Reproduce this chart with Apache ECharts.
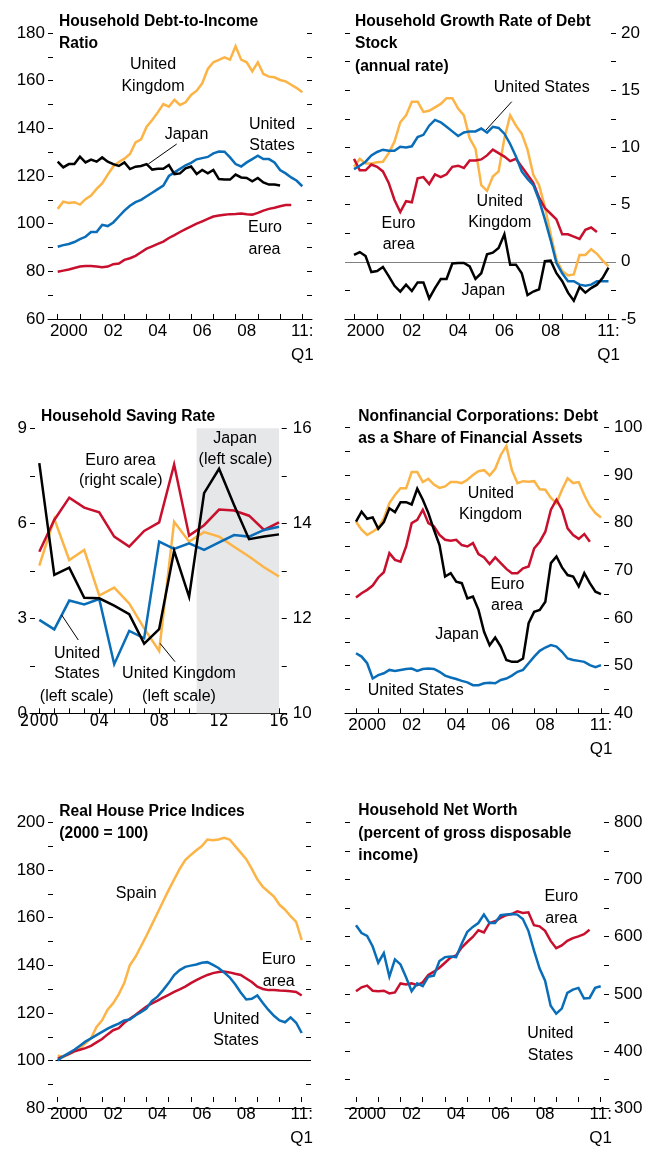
<!DOCTYPE html>
<html><head><meta charset="utf-8">
<script src="https://cdn.jsdelivr.net/npm/echarts@6/dist/echarts.min.js"></script>
<style>html,body{margin:0;padding:0;background:#fff}#c{width:653px;height:1150px}</style>
</head><body><div id="c"></div>
<script>
// ---------- DATA (quarterly series start 2000:Q1; annual series start 2000) ----------
const START_YEAR = 2000;

// Panel 1: Household Debt-to-Income Ratio
const P1_UK    = [106.2,109.2,108.7,109,108,110.3,111.8,114.6,116.9,120.6,124,125.9,127.3,129.2,134.1,135.4,140.7,143.5,146.7,150.2,149.1,152,149.8,150.9,154,155.8,158.9,164.9,167.7,168.7,169.8,168.8,174.4,168.8,167.7,163.9,167.7,162.8,161.7,161.4,160.3,159.7,158.3,156.9,155.1];
const P1_US    = [90.3,91,91.5,92.3,93.5,94.5,96.5,96.5,99.5,99,100.5,103,105.5,107.5,109,110,111.5,113,114.5,116,120,121.5,123,124.5,125.5,127,127.5,128,129.5,130.3,130.2,127.8,125,124,125.7,127.1,128.5,127.1,127.1,125.7,122.5,121.1,119.4,118,115.7];
const P1_JAPAN = [126,123.6,125,125,128.1,125.7,126.9,126,127.8,126,125,124.2,125.7,122.9,123.9,124.2,125,122.7,123,123,124.6,120.8,121.1,123.2,124,120.8,122.5,121.1,122.5,118.7,118.5,118.5,120.6,119.4,119.2,117.8,119.2,117.3,116.4,116.4,116];
const P1_EURO  = [79.8,80.3,80.8,81.4,82,82.2,82.2,82,81.7,82,83,83.3,84.8,85.5,86.5,88,89.5,90.5,91.5,92.5,94,95.2,96.5,97.7,98.9,100,101,102,103,103.4,103.7,104,104.1,104.3,104,103.8,104.5,105.5,106.2,106.7,107.3,107.8,107.8];

// Panel 2: Household Growth Rate of Debt Stock (annual rate)
const P2_US    = [8.1,8.4,8.75,9.3,9.6,9.8,9.7,9.7,10.05,10,10.1,10.9,11.1,11.9,12.4,12.2,11.8,11.4,11,11.3,11.4,11.4,11.65,11.3,11.8,11.7,11.2,10.3,9.2,7.9,7.25,6.7,5.4,3.7,1.9,-0.1,-1,-1.7,-1.7,-2,-2.1,-2,-1.7,-1.7,-1.7];
const P2_UK    = [8.3,9,8.6,8.6,8.7,8.75,9.5,10.5,12.2,12.8,14,14,13.1,13.2,13.5,13.8,14.3,14.3,13.4,12.8,10.8,9.9,6.7,6.2,7.45,7.9,10.8,12.8,11.9,11.2,9.8,7.6,6.7,4.8,2.4,0.2,-0.8,-1.2,-1.1,0.6,0.6,1.1,0.7,0.1,-0.4];
const P2_EURO  = [9,8,8,8.5,8.3,7.9,6.9,5.4,4.35,5.3,5.2,7.3,7.4,6.8,7.65,7.4,7.65,8.3,8.4,8.2,8.85,8.85,8.95,9.3,9.8,9.5,9.2,8.8,9,8.3,7.6,6.9,5.6,4.7,4.2,3.7,2.4,2.4,2.2,2,2.8,3,2.6];
const P2_JAPAN = [0.6,0.85,0.5,-0.9,-0.8,-0.45,-1.25,-2.1,-2.6,-2,-2.55,-1.8,-1.8,-3.2,-2.3,-1.5,-1.5,-0.15,-0.1,-0.1,-0.4,-1.5,-1,0.65,0.8,1.2,2.4,-0.25,-0.25,-1,-2.9,-2.6,-2.4,0.05,0.1,-1,-1.7,-2.7,-3.4,-2.2,-2.7,-2.3,-2,-1.4,-0.5];

// Panel 3: Household Saving Rate (annual 2000-2016)
const P3_JAPAN = [7.9,4.37,4.6,3.65,3.63,3.4,3.13,2.2,2.66,5.13,3.68,6.95,7.72,6.58,5.5,5.58,5.65];
const P3_US    = [2.95,2.65,3.56,3.44,3.61,1.55,2.6,2.37,5.42,5.19,5.37,5.16,5.4,5.63,5.58,5.79,5.89];
const P3_UK    = [4.66,6.14,4.84,5.16,3.72,3.97,3.47,2.68,1.97,6.05,5.42,5.72,5.58,5.26,4.95,4.61,4.32];
const P3_EURO  = [13.4,14.07,14.54,14.33,14.23,13.72,13.51,13.84,14.02,15.24,13.74,13.96,14.29,14.27,14.16,13.86,14.02];
const P3_PROJECTION = [2010.5, 2016];

// Panel 4: Nonfinancial Corporations: Debt as a Share of Financial Assets
const P4_JAPAN = [80.2,82.3,80.8,81.1,78.7,80.1,83,82.2,84.3,84.3,83.8,87.1,84.8,82,78.5,75.3,68.7,69.4,67.6,67.3,64.1,64.5,61.7,57.1,54.3,55.9,54,51.2,50.8,50.8,51.5,58.9,61.3,61.7,63.4,71.5,72.9,70.6,69,68.7,66.6,69.4,67.3,65.5,65];
const P4_UK    = [80.2,78.5,77.4,78.1,78.9,80.9,84.1,85.8,87.2,87.2,90.6,90.6,88.5,89.2,88,87.3,87.6,88.5,88.5,88.3,89,90,90.8,91,89.9,91.3,94.2,96.1,91,88.3,88.7,88.6,88.7,87,86.9,85.2,84.1,86.9,89.3,88.3,88.5,85.8,83.5,82,81.1];
const P4_EURO  = [64.3,65.2,65.9,66.8,68.5,69.6,73.6,72.2,71.8,75,79.9,80.6,82.7,79.9,79.2,77.4,76.4,76.2,76.4,75.3,75,75.7,73.4,72.7,71.3,72.7,71.5,70.3,69.4,69.4,70.4,70.8,74.6,76,78.1,82.7,84.8,82.7,78.8,77.4,76.6,77.6,76];
const P4_US    = [52.6,51.9,50.5,47.3,48,48.4,49.1,48.9,49.1,49.3,49.4,48.9,49.3,49.4,49.3,48.7,47.9,47.5,47.2,46.8,46.5,45.9,45.9,46.3,46.4,46.3,47,47.3,47.9,48.7,49.1,50.5,51.9,53.1,53.8,54.3,54,52.9,51.5,51.2,51,50.8,50.1,49.7,50.1];

// Panel 5: Real House Price Indices (2000 = 100)
const P5_SPAIN = [100,99.2,100.6,101.7,103.1,105.2,107.3,112.2,115,119.6,122.4,126.2,131,138.7,142.2,146.7,151.3,156.2,161.1,166,170.9,175.5,180,183.8,186,188,189.8,192.6,192.3,192.6,193.3,192.6,189.8,187,184.2,180,175.5,172.3,170.2,168.1,164.6,162.5,159.7,157.3,149.5];
const P5_US    = [97.8,99.6,101,102.4,104.1,105.9,107.3,108.7,110.1,111.5,112.6,113.6,115,115.4,117.1,118.5,120.1,123.4,125.2,128,131,134.5,136.6,138,138.5,139,139.7,140,138.8,137.5,135.6,133.5,130.5,127,124,124.3,125.7,122.5,119.5,117,115,114.2,116.3,114,109.6];
const P5_EURO  = [98.6,99.6,100.6,101.7,102.4,103.1,104.1,105.6,107,109,110.8,111.7,114,115.7,117.3,119.2,121,122.3,123.5,124.8,126,127.2,128.3,129.5,131,132.3,133.5,134.5,135.3,135.8,136,135.6,135,134.5,133,131.5,129.5,128.5,128,128,127.8,127.7,127.5,127.2,125.7];
const P5_BASE  = 100;

// Panel 6: Household Net Worth (percent of gross disposable income)
const P6_US    = [616,602,597,578,549,566,524,555,546,523,498,512,507,524,526,552,559,560,559,583,604,613,620,635,620,620,634,635,636,635,627,606,571,539,517,472,458,467,495,501,504,485,486,504,507];
const P6_EURO  = [498,505,508,499,498,499,494,496,512,510,512,509,514,527,533,540,549,558,562,576,586,595,607,603,620,623,629,634,636,641,638,639,616,614,606,588,575,580,588,593,596,600,608];

// Tick labels
const Q_LABEL_YEARS = [2000, 2002, 2004, 2006, 2008];
const Q_LABEL_TEXT  = ['2000', '02', '04', '06', '08'];
const Q_END_YEAR = 2011, Q_END_LABEL = '11:\nQ1';
const A_LABEL_YEARS = [2000, 2004, 2008, 2012, 2016];
const A_LABEL_TEXT  = ['2000', '04', '08', '12', '16'];

// ---------- STYLE ----------
const FONT = "'Liberation Sans', Arial, sans-serif";
const NARROW = "'Liberation Sans Narrow', 'Arial Narrow', 'DejaVu Sans Condensed', 'Liberation Sans', sans-serif";
const ORANGE = '#fcb447', BLUE = '#0a6db8', RED = '#c8102e', BLACK = '#000000';

const quarterly = arr => arr.map((v, i) => [START_YEAR + i * 0.25, v]);
const annual = arr => arr.map((v, i) => [START_YEAR + i, v]);

const grids = [], xAxes = [], yAxes = [], series = [], graphics = [];

function yFrame(gi, pos, r, labelEvery, margin) {
  return {
    type: 'value', gridIndex: gi, position: pos, min: r.min, max: r.max, interval: r.interval,
    axisLine: { show: false, onZero: false },
    axisTick: { show: true, inside: true, length: 5, lineStyle: { color: '#000', width: 1 } },
    axisLabel: labelEvery ? {
      show: true, margin: margin, color: '#000', fontFamily: FONT, fontSize: 17,
      formatter: v => (Math.abs(v % labelEvery) < 1e-9 ? String(v) : '')
    } : { show: false },
    splitLine: { show: false }
  };
}

function addPanel(p) {
  const gA = grids.length;
  grids.push({ left: p.A.left, top: p.A.top, width: p.A.width, height: p.A.height });
  const gB = grids.length;
  grids.push({ left: p.B.left, top: p.A.top, width: p.B.width, height: p.A.height });
  const ppy = p.B.width / (p.xMax - p.xMin);
  const aMin = p.xMin - (p.B.left - p.A.left) / ppy;
  const aMax = p.xMin + (p.A.left + p.A.width - p.B.left) / ppy;

  const xA = xAxes.length;
  xAxes.push({ type: 'value', gridIndex: gA, position: 'bottom', min: aMin, max: aMax,
    axisLine: { show: true, onZero: false, lineStyle: { color: '#000', width: 1 } },
    axisTick: { show: false }, axisLabel: { show: false }, splitLine: { show: false } });
  const yAL = yAxes.length;
  yAxes.push(yFrame(gA, 'left', p.yL, p.leftLabels, p.leftMargin || 3));
  yAxes.push(yFrame(gA, 'right', p.yR || p.yL, p.rightLabels, p.rightMargin || 5));

  const xB = xAxes.length;
  xAxes.push({ type: 'value', gridIndex: gB, position: 'bottom', min: p.xMin, max: p.xMax, interval: 1,
    axisLine: { show: false, onZero: false },
    axisTick: { show: true, inside: true, length: 5, lineStyle: { color: '#000', width: 1 } },
    axisLabel: p.annual ? {
      show: true, margin: 0, color: '#000', fontFamily: NARROW, fontSize: 17, lineHeight: 16,
      formatter: v => { const k = A_LABEL_YEARS.indexOf(Math.round(v)); return k >= 0 ? A_LABEL_TEXT[k] : ''; }
    } : { show: false },
    splitLine: { show: false } });
  if (!p.annual) {
    xAxes.push({ type: 'value', gridIndex: gB, position: 'bottom', min: p.xMin, max: p.xMax, interval: 0.5,
      axisLine: { show: false, onZero: false }, axisTick: { show: false },
      axisLabel: { show: true, margin: 0, color: '#000', fontFamily: FONT, fontSize: 17, lineHeight: 24,
        formatter: v => {
          if (Math.abs(v - Q_END_YEAR) < 1e-6) return Q_END_LABEL;
          const k = Q_LABEL_YEARS.indexOf(v - 0.5);
          return k >= 0 ? Q_LABEL_TEXT[k] : '';
        } },
      splitLine: { show: false } });
  }
  const yBL = yAxes.length;
  yAxes.push({ type: 'value', gridIndex: gB, min: p.yL.min, max: p.yL.max, show: false, position: 'left' });
  const yR = p.yR || p.yL;
  yAxes.push({ type: 'value', gridIndex: gB, min: yR.min, max: yR.max, show: false, position: 'right' });

  // frame helpers (reference lines / shaded areas) on grid A
  const helper = { type: 'line', xAxisIndex: xA, yAxisIndex: yAL, data: [], silent: true, symbol: 'none' };
  if (p.markLine) helper.markLine = p.markLine;
  if (p.markArea) helper.markArea = p.markArea;
  if (p.markLine || p.markArea) series.push(helper);

  p.lines.forEach(l => {
    series.push({ type: 'line', xAxisIndex: xB, yAxisIndex: l.right ? yBL + 1 : yBL,
      data: l.data, symbol: 'none', showSymbol: false, clip: false, silent: true,
      lineStyle: { color: l.color, width: 2.5, join: 'miter' }, itemStyle: { color: l.color } });
  });
}

// Panel 1
addPanel({
  A: { left: 48, top: 33, width: 264, height: 286 }, B: { left: 57.7, width: 244.6 },
  xMin: 2000, xMax: 2011, yL: { min: 60, max: 180, interval: 10 }, leftLabels: 20,
  lines: [
    { data: quarterly(P1_UK), color: ORANGE },
    { data: quarterly(P1_EURO), color: RED },
    { data: quarterly(P1_US), color: BLUE },
    { data: quarterly(P1_JAPAN), color: BLACK }
  ]
});
// Panel 2
addPanel({
  A: { left: 345, top: 33, width: 271, height: 286 }, B: { left: 354, width: 254.5 },
  xMin: 2000, xMax: 2011, yL: { min: -5, max: 20, interval: 2.5 }, rightLabels: 5,
  markLine: { silent: true, symbol: ['none', 'none'], z: 1, label: { show: false },
    lineStyle: { color: '#808080', type: 'solid', width: 1.2 }, data: [{ yAxis: 0 }] },
  lines: [
    { data: quarterly(P2_UK), color: ORANGE },
    { data: quarterly(P2_EURO), color: RED },
    { data: quarterly(P2_US), color: BLUE },
    { data: quarterly(P2_JAPAN), color: BLACK }
  ]
});
// Panel 3
addPanel({
  A: { left: 30, top: 428.3, width: 256.7, height: 285 }, B: { left: 39.3, width: 239.7 },
  xMin: 2000, xMax: 2016, annual: true,
  yL: { min: 0, max: 9, interval: 1.5 }, yR: { min: 10, max: 16, interval: 1 },
  leftLabels: 3, rightLabels: 2, rightMargin: 6,
  markArea: { silent: true, itemStyle: { color: '#e6e7e8' },
    data: [[{ xAxis: P3_PROJECTION[0] }, { xAxis: P3_PROJECTION[1] }]] },
  lines: [
    { data: annual(P3_UK), color: ORANGE },
    { data: annual(P3_EURO), color: RED, right: true },
    { data: annual(P3_US), color: BLUE },
    { data: annual(P3_JAPAN), color: BLACK }
  ]
});
// Panel 4
addPanel({
  A: { left: 345, top: 427.3, width: 264, height: 286 }, B: { left: 356, width: 245 },
  xMin: 2000, xMax: 2011, yL: { min: 40, max: 100, interval: 5 }, rightLabels: 10,
  lines: [
    { data: quarterly(P4_UK), color: ORANGE },
    { data: quarterly(P4_EURO), color: RED },
    { data: quarterly(P4_US), color: BLUE },
    { data: quarterly(P4_JAPAN), color: BLACK }
  ]
});
// Panel 5
addPanel({
  A: { left: 48, top: 822.3, width: 263, height: 286 }, B: { left: 57.7, width: 244 },
  xMin: 2000, xMax: 2011, yL: { min: 80, max: 200, interval: 10 }, leftLabels: 20,
  markLine: { silent: true, symbol: ['none', 'none'], z: 1, label: { show: false },
    lineStyle: { color: '#000', type: 'solid', width: 1 },
    data: [[{ coord: [1999.9, P5_BASE] }, { coord: [2011.2, P5_BASE] }]] },
  lines: [
    { data: quarterly(P5_SPAIN), color: ORANGE },
    { data: quarterly(P5_EURO), color: RED },
    { data: quarterly(P5_US), color: BLUE }
  ]
});
// Panel 6
addPanel({
  A: { left: 345, top: 822.3, width: 264, height: 286 }, B: { left: 356, width: 244.7 },
  xMin: 2000, xMax: 2011, yL: { min: 300, max: 800, interval: 50 }, rightLabels: 100,
  lines: [
    { data: quarterly(P6_EURO), color: RED },
    { data: quarterly(P6_US), color: BLUE }
  ]
});

// ---------- TEXT ANNOTATIONS ----------
function txt(s, x, y, opt) {
  opt = opt || {};
  const align = opt.align || 'center';
  graphics.push({ type: 'text', x: x, y: y, silent: true, z: 10,
    style: { text: s, fill: '#000', font: (opt.bold ? 'bold ' : '') + (opt.size || 16) + 'px ' + FONT,
      textAlign: align, align: align, textVerticalAlign: 'middle', verticalAlign: 'middle' } });
}
function title(lines, x, y0, dy) { lines.forEach((s, i) => txt(s, x, y0 + i * dy, { bold: true, size: 15.6, align: 'left' })); }
function leader(x1, y1, x2, y2) {
  graphics.push({ type: 'line', silent: true, z: 10, shape: { x1, y1, x2, y2 }, style: { stroke: '#000', lineWidth: 1 } });
}

title(['Household Debt-to-Income', 'Ratio'], 59, 21.5, 22);
txt('United', 153, 64.5); txt('Kingdom', 153, 86.5);
txt('Japan', 186.5, 134.5); leader(176.7, 144, 148.3, 164);
txt('United', 272, 124.5); txt('States', 272, 146);
txt('Euro', 265, 228); txt('area', 264.5, 249.5);

title(['Household Growth Rate of Debt', 'Stock', '(annual rate)'], 355, 21.5, 22.5);
txt('United States', 541.7, 88); leader(511.7, 101.7, 486, 130);
txt('United', 499.7, 201.7); txt('Kingdom', 499.7, 223);
txt('Euro', 398.5, 223.3); txt('area', 398.7, 244.5);
txt('Japan', 483.3, 291);

title(['Household Saving Rate'], 41, 416.7, 22);
txt('Euro area', 120.5, 460.5); txt('(right scale)', 120.7, 480.5);
txt('Japan', 235, 438.5); txt('(left scale)', 235.5, 459.5);
txt('United', 77, 653.3); txt('States', 77, 674); txt('(left scale)', 76.7, 696.5);
leader(61.7, 615, 78.3, 640);
txt('United Kingdom', 179, 674); txt('(left scale)', 179, 696.5);
leader(160, 643.3, 175, 661.7);

title(['Nonfinancial Corporations: Debt', 'as a Share of Financial Assets'], 358.3, 416.7, 21.8);
txt('United', 490.8, 493.3); txt('Kingdom', 490.5, 514.5);
txt('Euro', 507.5, 585); txt('area', 507, 606);
txt('Japan', 457, 634.5);
txt('United States', 415.7, 690.5);

title(['Real House Price Indices', '(2000 = 100)'], 59.3, 811.7, 22.3);
txt('Spain', 136.3, 893.5);
txt('Euro', 278.7, 960); txt('area', 278.7, 981.5);
txt('United', 236.3, 1019.5); txt('States', 236, 1040.3);

title(['Household Net Worth', '(percent of gross disposable', 'income)'], 358.3, 810.7, 22.6);
txt('Euro', 561.3, 896.7); txt('area', 561.3, 919);
txt('United', 550.3, 1033.3); txt('States', 550.5, 1055.3);

const chart = echarts.init(document.getElementById('c'), null, { renderer: 'canvas' });
chart.setOption({
  animation: false,
  backgroundColor: '#ffffff',
  grid: grids, xAxis: xAxes, yAxis: yAxes, series: series, graphic: graphics
});
</script></body></html>
